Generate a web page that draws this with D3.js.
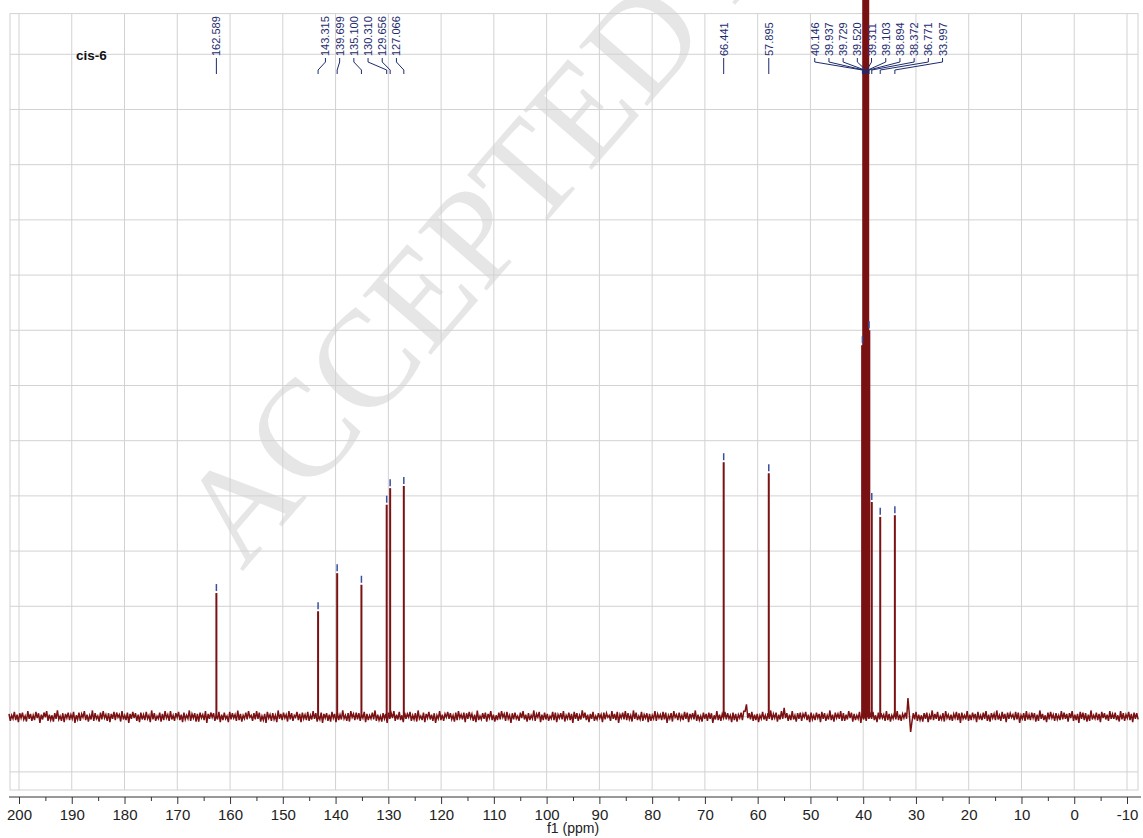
<!DOCTYPE html>
<html>
<head>
<meta charset="utf-8">
<script src="https://cdn.jsdelivr.net/npm/d3@7.9.0/dist/d3.min.js"></script>
<style>
  html, body { margin: 0; padding: 0; background: #fff; }
  svg { display: block; }
  .tick text { font-family: "Liberation Sans", Arial, sans-serif; }
</style>
</head>
<body>
<svg id="chart" width="1143" height="838"></svg>
<script>
// peak list: shift (ppm) and height (in grid units above baseline)
const peakPpm = [162.589, 143.315, 139.699, 135.100, 130.310, 129.656, 127.066,
  66.441, 57.895,
  40.146, 39.937, 39.729, 39.520, 39.311, 39.103, 38.894, 38.372, 36.771, 33.997];
const peakHeight = [2.24, 1.91, 2.60, 2.39, 3.84, 4.14, 4.18,
  4.61, 4.41,
  6.73, 16, 18, 19, 18, 16, 7.0, 3.89, 3.62, 3.65];

// axis ticks
const majorTicks = [200, 190, 180, 170, 160, 150, 140, 130, 120, 110, 100, 90, 80, 70, 60, 50, 40, 30, 20, 10, 0, -10];
const minorTicks = [195, 185, 175, 165, 155, 145, 135, 125, 115, 105, 95, 85, 75, 65, 55, 45, 35, 25, 15, 5, -5];
const gridRows = [-1, 0, 1, 2, 3, 4, 5, 6, 7, 8, 9, 10, 11, 12];

// baseline noise, in units of 0.0125 grid row, sampled evenly from 201.9 to -12.1 ppm
const noise = [
  4,-6,2,-3,7,-5,3,-8,5,-2,6,-4,1,-7,8,-3,4,-6,2,-5,
  7,-2,5,-9,3,-4,6,-1,8,-6,3,-5,2,-7,5,-3,9,-4,1,-6,
  5,-8,4,-2,6,-5,3,-3,7,-9,2,-4,6,-6,4,-1,8,-5,3,-7,
  2,-4,9,-6,5,-3,1,-7,6,-4,8,-2,3,-6,5,-8,4,-3,7,-5,
  6,-1,3,-7,8,-4,2,-5,6,-9,4,-3,7,-2,5,-6,3,-8,6,-4,
  3,-5,7,-3,2,-8,9,-4,5,-6,1,-3,6,-7,4,-5,8,-2,3,-6,
  8,-4,2,-6,5,-1,7,-5,3,-8,6,-4,2,-3,9,-6,4,-2,5,-7,
  4,-7,6,-2,3,-5,8,-9,4,-3,6,-1,5,-6,2,-4,7,-8,3,-5,
  6,-3,1,-8,7,-4,5,-2,3,-6,9,-5,4,-7,2,-3,6,-4,8,-1,
  2,-6,5,-4,8,-3,6,-7,1,-5,4,-9,7,-2,3,-6,5,-4,2,-8,
  9,-3,4,-5,6,-2,3,-7,8,-4,5,-6,2,-1,7,-5,4,-8,6,-3,
  3,-5,7,-6,2,-4,8,-3,5,-7,1,-4,6,-9,4,-2,5,-6,3,-7,
  7,-2,4,-8,6,-5,3,-4,9,-3,2,-6,5,-7,8,-1,4,-5,6,-4,
  5,-6,3,-2,7,-8,4,-5,2,-3,6,-4,9,-6,3,-5,1,-7,5,-3,
  4,-9,6,-3,5,-2,8,-6,3,-4,7,-5,2,-8,6,-3,4,-1,7,-6,
  2,-4,5,-7,9,-3,1,-5,6,-8,4,-2,7,-4,3,-6,5,-9,2,-3,
  8,-5,3,-6,4,-1,7,-3,5,-4,2,-7,6,-5,8,-2,3,-4,6,-8,
  5,-3,7,-2,4,-6,3,-8,9,-5,1,-4,5,-3,6,-7,4,-2,8,-5,
  3,-7,2,-5,6,-4,8,-1,4,-6,7,-3,2,-9,5,-4,6,-3,1,-6,
  6,-2,8,-4,3,-7,5,-5,2,-3,9,-6,4,-1,7,-8,3,-5,6,-4,
  4,-6,1,-3,7,-5,6,-8,3,-2,5,-4,8,-7,2,-3,6,-5,4,-9,
  7,-3,5,-6,2,-4,9,-2,6,-5,3,-8,4,-3,7,-6,1,-4,5,-2,
  3,-8,6,-4,5,-1,2,-6,8,-3,4,-5,7,-9,3,-2,6,-4,8,-5,
  5,-4,2,-7,9,-3,6,-5,1,-4,7,-6,3,-2,5,-8,4,-6,2,-3,
  8,-6,4,-2,3,-5,7,-4,6,-9,2,-3,5,-7,8,-1,3,-5,6,-4,
  2,-5,7,-3,6,-8,4,-2,5,-4,9,-6,3,-5,1,-7,6,-3,4,-6,
  6,-3,5,-9,2,-4,8,-5,3,-6,4,-2,7,-4,5,-3,2,-8,6,-5,
  4,-7,3,-2,6,-5,8,8,18,-2,5,-4,7,-6,3,-5,4,-8,2,-3,
  7,-4,2,-6,5,-3,9,-5,4,-2,6,-7,3,-4,8,-3,13,-2,5,-6,
  3,-5,8,-4,2,-7,5,-3,6,-6,4,-1,7,-5,3,-8,6,-4,2,-5,
  6,-2,4,-8,7,-3,5,-6,2,-4,9,-5,3,-7,6,-2,4,-3,8,-6,
  5,-6,3,-4,8,-2,6,-7,4,-5,2,-3,7,-9,5,-4,3,-6,6,-3,
  4,-3,7,-5,2,-8,6,-4,5,-2,3,-6,8,-5,4,-7,2,-3,6,-4,
  8,-5,3,-6,4,-2,6,-3,27,4,-22,-7,5,-4,7,-6,3,-5,2,-7,
  5,-3,6,-8,2,-4,9,-5,4,-3,7,-6,1,-4,5,-7,8,-2,3,-5,
  3,-6,4,-2,7,-5,5,-9,6,-3,2,-4,8,-6,3,-5,6,-2,4,-8,
  7,-4,2,-5,6,-3,8,-6,3,-7,5,-2,4,-5,9,-4,2,-6,7,-3,
  4,-8,6,-3,5,-1,3,-5,7,-4,6,-9,2,-3,5,-6,8,-4,3,-5,
  6,-2,5,-7,3,-6,9,-3,4,-5,2,-8,6,-4,7,-2,3,-6,5,-4,
  2,-5,8,-4,6,-3,4,-7,5,-2,8,-6,3,-5,4,-9,7,-3,6,-5,
  5,-7,3,-6,9,-4,2,-3,6,-5,4,-8,7,-2,5,-4,3,-6,8,-3,
  4,-3,6,-5,2,-7,8,-4,5,-6,3,-2,7,-5,4,-8,6,-3,5,-4
];
const noiseUnit = 0.0125;
const noiseRange = [201.9, -12.1];

const sampleName = 'cis-6';
const axisTitle = 'f1 (ppm)';
const watermark = 'ACCEPTED MANUSCRIPT';

const W = 1143, H = 838;
const frame = { left: 10, right: 1138, top: 13.6, bottom: 790 };
const red = '#7a1214';
const navy = '#1c2b6e';

const svg = d3.select('#chart');

const x = d3.scaleLinear().domain([200, -10]).range([19, 1127]);
const y = d3.scaleLinear().domain([-1.328, 12.737]).range([frame.bottom, frame.top]);

// watermark behind everything
svg.append('text')
  .attr('transform', 'translate(242,572) rotate(-49)')
  .attr('font-family', '"Liberation Serif", "Times New Roman", serif')
  .attr('font-size', 138)
  .attr('fill', '#e6e6e6')
  .text(watermark);

// grid
const grid = svg.append('g').attr('stroke', '#d2d2d2').attr('stroke-width', 1);
grid.selectAll('.vg').data(majorTicks).join('line')
  .attr('x1', d => x(d)).attr('x2', d => x(d))
  .attr('y1', frame.top).attr('y2', frame.bottom);
grid.selectAll('.hg').data(gridRows).join('line')
  .attr('x1', frame.left).attr('x2', frame.right)
  .attr('y1', d => y(d)).attr('y2', d => y(d));
grid.append('rect')
  .attr('x', frame.left).attr('y', frame.top)
  .attr('width', frame.right - frame.left).attr('height', frame.bottom - frame.top)
  .attr('fill', 'none');

// baseline noise
const noisePpm = d3.scaleLinear().domain([0, noise.length - 1]).range(noiseRange);
const line = d3.line()
  .x((d, i) => x(noisePpm(i)))
  .y(d => y(d * noiseUnit));
svg.append('path')
  .datum(noise)
  .attr('d', line)
  .attr('fill', 'none')
  .attr('stroke', red)
  .attr('stroke-width', 1.5);

// peaks
const peaks = peakPpm.map((p, i) => ({ ppm: p, h: peakHeight[i] }));
svg.append('g').selectAll('line').data(peaks).join('line')
  .attr('x1', d => x(d.ppm)).attr('x2', d => x(d.ppm))
  .attr('y1', y(0)).attr('y2', d => y(d.h))
  .attr('stroke', red)
  .attr('stroke-width', d => d.h > 6 ? 2.6 : 2);

// peak-pick markers (only visible ones)
svg.append('g').selectAll('line').data(peaks.filter(d => y(d.h) > frame.top)).join('line')
  .attr('x1', d => x(d.ppm)).attr('x2', d => x(d.ppm))
  .attr('y1', d => y(d.h) - 9).attr('y2', d => y(d.h) - 2)
  .attr('stroke', '#3b4f9e')
  .attr('stroke-width', 1.5);

// label layout: chain close peaks into groups, spread each group's labels evenly
const gap = 14.2;
const joinDist = 26;
const sorted = peaks.map(d => ({ ...d, px: x(d.ppm) })).sort((a, b) => a.px - b.px);
const groups = [];
sorted.forEach(d => {
  const g = groups[groups.length - 1];
  if (g && d.px - g[g.length - 1].px < joinDist) g.push(d);
  else groups.push([d]);
});
groups.forEach(g => {
  const c = (g[0].px + g[g.length - 1].px) / 2;
  g.forEach((d, i) => { d.lx = c + (i - (g.length - 1) / 2) * gap; d.single = g.length === 1; });
});

const labels = svg.append('g');
labels.selectAll('text').data(sorted).join('text')
  .attr('transform', d => `translate(${d.lx},56) rotate(-90)`)
  .attr('dy', '0.36em')
  .attr('font-family', '"Liberation Sans", Arial, sans-serif')
  .attr('font-size', 11)
  .attr('fill', navy)
  .text(d => d.ppm.toFixed(3));

labels.selectAll('path').data(sorted).join('path')
  .attr('d', d => d.single
    ? `M${d.lx},58L${d.px},74`
    : `M${d.lx},58L${d.lx},62L${d.px},70L${d.px},74`)
  .attr('fill', 'none')
  .attr('stroke', navy)
  .attr('stroke-width', 1);

// sample name
svg.append('text')
  .attr('x', 76).attr('y', 60)
  .attr('font-family', '"Liberation Sans", Arial, sans-serif')
  .attr('font-weight', 'bold')
  .attr('font-size', 13.5)
  .attr('fill', '#111')
  .text(sampleName);

// x axis
const axisY = 797;
const axis = svg.append('g')
  .attr('transform', `translate(0,${axisY})`)
  .call(d3.axisBottom(x).tickValues(majorTicks).tickSize(7).tickPadding(5).tickFormat(d => String(d)));
axis.select('.domain').remove();
axis.selectAll('.tick line').attr('stroke', '#333');
axis.selectAll('.tick text').attr('font-size', 15).attr('fill', '#222');

svg.append('g')
  .attr('transform', `translate(0,${axisY})`)
  .call(d3.axisBottom(x).tickValues(minorTicks).tickSize(4).tickFormat(''))
  .call(g => g.select('.domain').remove())
  .selectAll('.tick line').attr('stroke', '#333');

svg.append('line')
  .attr('x1', frame.left - 1).attr('x2', W - 2)
  .attr('y1', axisY).attr('y2', axisY)
  .attr('stroke', '#333');

svg.append('text')
  .attr('x', 573).attr('y', 833)
  .attr('text-anchor', 'middle')
  .attr('font-family', '"Liberation Sans", Arial, sans-serif')
  .attr('font-size', 14)
  .attr('fill', '#222')
  .text(axisTitle);
</script>
</body>
</html>
